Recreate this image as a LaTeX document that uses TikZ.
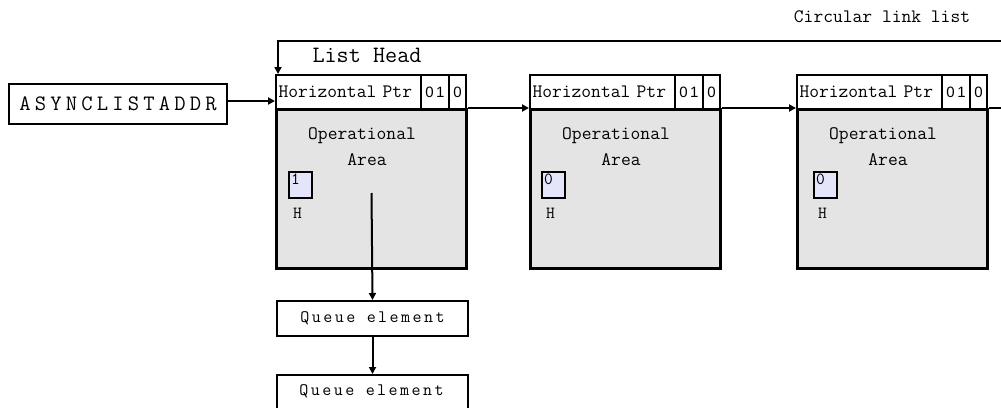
\documentclass[tikz,border=0pt]{standalone}
\usepackage{fontspec}
\setmainfont{Liberation Serif}
\setsansfont{Liberation Sans}
\newfontfamily\monowide[LetterSpace=19]{Latin Modern Mono}
\newfontfamily\monoq[LetterSpace=14]{Latin Modern Mono}
\newfontfamily\sansfam{Liberation Sans}
\usetikzlibrary{arrows.meta,calc}
\definecolor{areagray}{RGB}{228,228,228}
\definecolor{hfill}{RGB}{228,228,250}
\begin{document}
\begin{tikzpicture}[x=1pt,y=-1pt,
  box/.style={draw, line width=2pt, inner sep=0pt, anchor=north west},
  area/.style={box, fill=areagray, line width=2.5pt, minimum width=190pt, minimum height=159pt},
  ptrcell/.style={box, fill=white, minimum width=145pt, minimum height=34pt, text width=140pt, align=left,
     font=\ttfamily\fontsize{19}{21}\selectfont},
  bitcell/.style={box, fill=white, minimum height=34pt, font=\sansfam\fontsize{15}{17}\selectfont},
  optext/.style={font=\ttfamily\fontsize{19}{21}\selectfont, inner sep=0pt},
  hbox/.style={box, fill=hfill, line width=2pt, minimum width=23pt, minimum height=26pt},
  small/.style={font=\ttfamily\fontsize{17}{19}\selectfont, inner sep=0pt},
  qbox/.style={box, fill=white, minimum width=191pt, minimum height=35pt, font=\monoq\fontsize{17.5}{19}\selectfont},
  arr/.style={-{Triangle[length=7pt,width=7pt]}, line width=2pt}
]
\useasboundingbox (0,0) rectangle (1001,407);

% titles
\node[font=\ttfamily\fontsize{19}{21}\selectfont, inner sep=0pt] (title) at (882,17) {Circular link list};
\node[font=\ttfamily\fontsize{23.5}{26}\selectfont, inner sep=0pt] (lh) at (367,55) {List Head};

% ASYNCLISTADDR
\node[box, minimum width=218pt, minimum height=40pt, font=\monowide\fontsize{22}{24}\selectfont] (async) at (8,83) {ASYNCLISTADDR};

% element nodes
\foreach \i/\L/\hx/\v in {1/275/288/1, 2/529/541/0, 3/796/813/0}{
  \node[area] (area\i) at (\L,108) {};
  \node[ptrcell] (ptr\i) at (\L,74) {Horizontal Ptr};
  \node[bitcell, minimum width=28pt] (b\i) at (\L+145,74) {0\,1};
  \node[bitcell, minimum width=17pt] (c\i) at (\L+173,74) {0};
  \node[optext] (op\i) at (\L+87,136) {Operational};
  \node[optext] (ar\i) at (\L+92,160) {Area};
  \node[hbox] (hb\i) at (\hx,171) {};
  \node[small, anchor=north west] (hv\i) at (\hx+3,174) {\v};
  \node[small] (hl\i) at (\hx+9.5,213) {H};
}

% queue elements
\node[qbox] (q1) at (276,300) {Queue element};
\node[qbox, minimum height=50pt] (q2) at (276,374) {};
\node[font=\monoq\fontsize{17.5}{19}\selectfont, inner sep=0pt] (q2t) at (371.5,391) {Queue element};

% connectors
\draw[arr] ([yshift=3pt]async.east) -- ([yshift=3pt]async.east -| ptr1.west);
\draw[arr] (area1.north east) -- (area2.north west);
\draw[arr] (area2.north east) -- (area3.north west);
\coordinate (outR) at (1003,108);
\draw[line width=2pt] (area3.north east) -- (outR);
\coordinate (loopR) at (1003,41);
\draw[arr] (loopR) -| ($(ptr1.north west)+(3,0)$);
\coordinate (qs) at (371.5,193);
\draw[arr] (qs) -- (q1.north);
\draw[arr] (q1.south) -- (q2.north);
\end{tikzpicture}
\end{document}
